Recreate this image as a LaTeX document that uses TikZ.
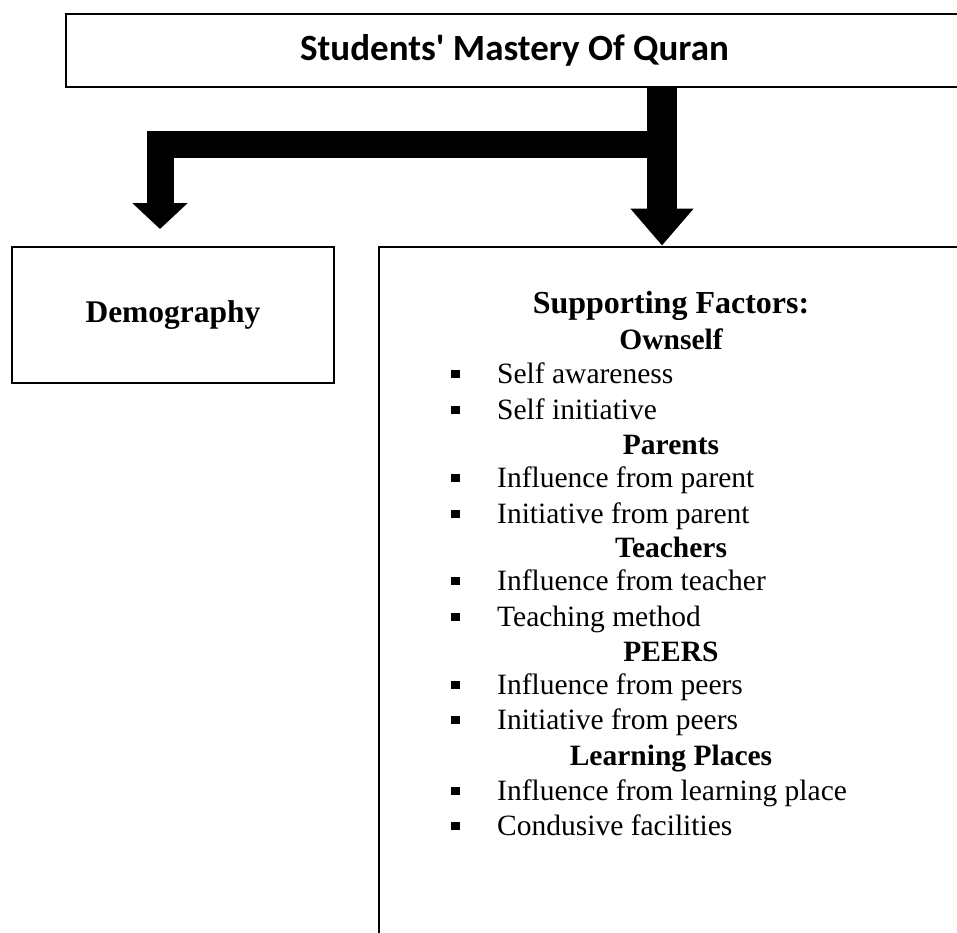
\documentclass[tikz,border=0pt]{standalone}
\usepackage{fontspec}
\setmainfont{Liberation Serif}
\newfontfamily\titlefont{Carlito}
\usetikzlibrary{arrows.meta,calc}
% small square list marker followed by the gap before the item text
\newcommand\sqmark{\raisebox{5pt}{\rule{8.5pt}{8.5pt}}\hspace{37.5pt}}
\begin{document}
\begin{tikzpicture}[x=1pt,y=-1pt,
  box/.style={draw, line width=2.6pt, inner sep=0pt, outer sep=0pt},
  heading/.style={anchor=base, inner sep=0pt, font=\fontsize{29.5}{34}\selectfont\bfseries},
  item/.style={anchor=base west, inner sep=0pt, font=\fontsize{29.5}{34}\selectfont}
]
\useasboundingbox (0,0) rectangle (957,932);

% boxes
\node[box, minimum width=897, minimum height=73] (top) at (514.5,50.5)
  {\titlefont\fontsize{37}{44}\selectfont\bfseries Students' Mastery Of Quran};
\node[box, minimum width=322, minimum height=136] (demo) at (173,315)
  {\fontsize{31.5}{36}\selectfont\bfseries Demography};
\node[box, minimum width=584, minimum height=698] (factors) at (671,596) {};

% branching arrows
\coordinate (stem) at (662,0);
\coordinate (fork) at ($(top.south -| stem)+(0,57)$);
\coordinate (ltip) at ($(demo.north)+(-13,-18)$);
\draw[line width=27pt, line join=miter,
      -{Triangle[length=26pt, width=54pt]}] (fork) -| (ltip);
\draw[line width=30pt,
      -{Triangle[length=37pt, width=61pt]}] (top.south -| stem) -- ($(factors.north -| stem)+(0,-1.5)$);

% contents of the factors box
\node[heading, font=\fontsize{32}{36}\selectfont\bfseries] (hsup) at (671,313) {Supporting Factors:};
\node[heading] (hown) at (671,349) {Ownself};
\node[item] (i1) at (451,383) {\sqmark Self awareness};
\node[item] (i2) at (451,419) {\sqmark Self initiative};
\node[heading] (hpar) at (671,454) {Parents};
\node[item] (i3) at (451,487) {\sqmark Influence from parent};
\node[item] (i4) at (451,523) {\sqmark Initiative from parent};
\node[heading] (htea) at (671,557) {Teachers};
\node[item] (i5) at (451,590) {\sqmark Influence from teacher};
\node[item] (i6) at (451,626) {\sqmark Teaching method};
\node[heading] (hpee) at (671,661) {PEERS};
\node[item] (i7) at (451,694) {\sqmark Influence from peers};
\node[item] (i8) at (451,729) {\sqmark Initiative from peers};
\node[heading] (hlea) at (671,765) {Learning Places};
\node[item] (i9) at (451,800) {\sqmark Influence from learning place};
\node[item] (i10) at (451,835) {\sqmark Condusive facilities};
\end{tikzpicture}
\end{document}
